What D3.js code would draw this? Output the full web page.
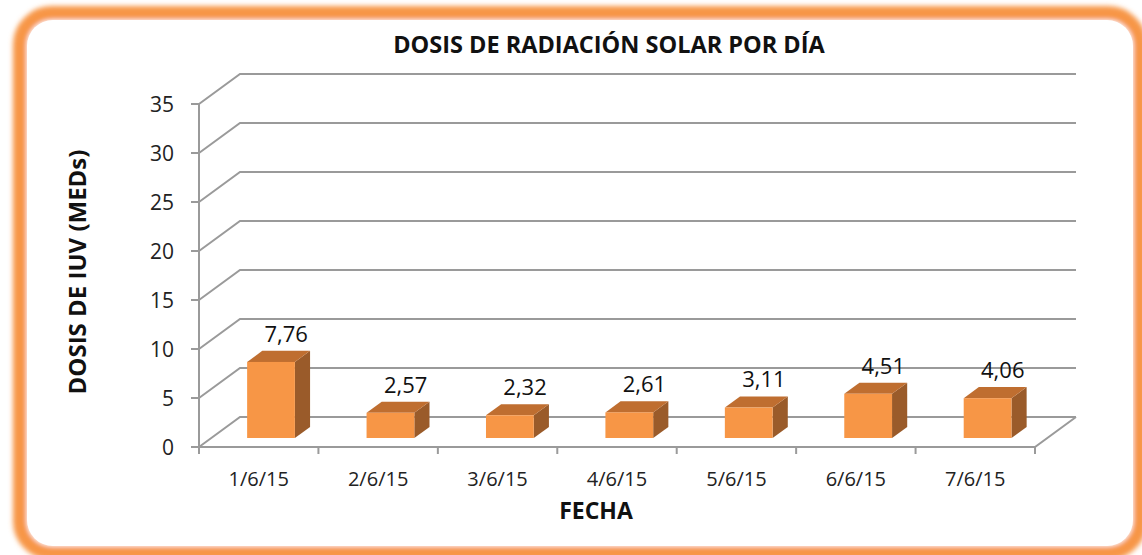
<!DOCTYPE html>
<html>
<head>
<meta charset="utf-8">
<script src="https://cdn.jsdelivr.net/npm/d3@7"></script>
<style>
  body { margin: 0; background: #fff; }
  svg { display: block; }
</style>
</head>
<body>
<svg id="chart" width="1142" height="555"></svg>
<script>
// datos
const fechas = ["1/6/15", "2/6/15", "3/6/15", "4/6/15", "5/6/15", "6/6/15", "7/6/15"];
const dosis = [7.76, 2.57, 2.32, 2.61, 3.11, 4.51, 4.06];
const yTicks = [0, 5, 10, 15, 20, 25, 30, 35];

const svg = d3.select("#chart");
const font = "'Open Sans', 'Liberation Sans', sans-serif";

// fondo / marco naranja
const defs = svg.append("defs");
defs.append("filter").attr("id", "glow")
  .attr("x", "-5%").attr("y", "-5%").attr("width", "110%").attr("height", "110%")
  .append("feGaussianBlur").attr("stdDeviation", 2.5);

svg.append("rect")
  .attr("x", 20).attr("y", 13).attr("width", 1120).attr("height", 540)
  .attr("rx", 32).attr("ry", 32)
  .attr("fill", "#fff")
  .attr("stroke", "#F79646").attr("stroke-width", 14)
  .attr("filter", "url(#glow)");
svg.append("rect")
  .attr("x", 27).attr("y", 20).attr("width", 1106).attr("height", 526)
  .attr("rx", 26).attr("ry", 26)
  .attr("fill", "#fff");

// geometria 3D
const left = 199, right = 1035;
const DX = 41, DY = -30;   // profundidad de la pared
const z0 = 0.3, z1 = 0.67; // posicion de barras en la profundidad

const x = d3.scaleBand().domain(fechas).range([left, right])
  .paddingInner(0.6).paddingOuter(0.3);
const y = d3.scaleLinear().domain([0, 35]).range([447, 104]);

const g = svg.append("g");
const gridColor = "#9a9a9a";

// rejilla: diagonal izquierda + linea de fondo
yTicks.forEach(t => {
  const yy = y(t);
  g.append("path")
    .attr("d", `M${left},${yy}L${left + DX},${yy + DY}L${right + DX},${yy + DY}`)
    .attr("fill", "none").attr("stroke", gridColor).attr("stroke-width", 2);
});
// piso: borde derecho y frente
g.append("path")
  .attr("d", `M${left},${y(0)}L${right},${y(0)}L${right + DX},${y(0) + DY}`)
  .attr("fill", "none").attr("stroke", gridColor).attr("stroke-width", 2);

// eje Y
g.append("line")
  .attr("x1", left).attr("x2", left).attr("y1", y(0)).attr("y2", y(35))
  .attr("stroke", gridColor).attr("stroke-width", 2);
g.selectAll(".ytick").data(yTicks).enter().append("line")
  .attr("x1", left - 8).attr("x2", left).attr("y1", d => y(d)).attr("y2", d => y(d))
  .attr("stroke", gridColor).attr("stroke-width", 2);
g.selectAll(".ylab").data(yTicks).enter().append("text")
  .attr("x", 174).attr("y", d => y(d) + 8)
  .attr("text-anchor", "end")
  .attr("font-family", font).attr("font-size", 21).attr("fill", "#222")
  .text(d => d);

// eje X: marcas entre categorias
const bounds = d3.range(fechas.length + 1).map(i => left + i * x.step());
g.selectAll(".xtick").data(bounds).enter().append("line")
  .attr("x1", d => d).attr("x2", d => d).attr("y1", y(0)).attr("y2", y(0) + 7)
  .attr("stroke", gridColor).attr("stroke-width", 2);
g.selectAll(".xlab").data(fechas).enter().append("text")
  .attr("x", d => x(d) + x.bandwidth() / 2).attr("y", 486)
  .attr("text-anchor", "middle")
  .attr("font-family", font).attr("font-size", 20).attr("fill", "#222")
  .text(d => d);

// barras 3D
const bw = x.bandwidth();
const fx = z0 * DX, fy = z0 * DY;
const bx = (z1 - z0) * DX, by = (z1 - z0) * DY;
const bars = g.selectAll(".bar").data(fechas.map((f, i) => ({ f, v: dosis[i] })))
  .enter().append("g");

bars.each(function (d) {
  const s = d3.select(this);
  const x0 = x(d.f) + fx, x1 = x0 + bw;
  const yb = y(0) + fy, yt = y(d.v) + fy;
  // lado
  s.append("path")
    .attr("d", `M${x1},${yb}L${x1 + bx},${yb + by}L${x1 + bx},${yt + by}L${x1},${yt}Z`)
    .attr("fill", "#9A5B2A");
  // tapa
  s.append("path")
    .attr("d", `M${x0},${yt}L${x0 + bx},${yt + by}L${x1 + bx},${yt + by}L${x1},${yt}Z`)
    .attr("fill", "#BF6E30");
  // frente
  s.append("rect")
    .attr("x", x0).attr("y", yt).attr("width", bw).attr("height", yb - yt)
    .attr("fill", "#F79646");
  // etiqueta
  s.append("text")
    .attr("x", x0 + bw / 2 + bx).attr("y", yt + by - 9)
    .attr("text-anchor", "middle")
    .attr("font-family", font).attr("font-size", 22).attr("fill", "#111")
    .text(d3.format(".2f")(d.v).replace(".", ","));
});

// titulos
svg.append("text")
  .attr("x", 609).attr("y", 53).attr("text-anchor", "middle")
  .attr("font-family", font).attr("font-weight", "bold").attr("font-size", 23.5)
  .attr("fill", "#111")
  .text("DOSIS DE RADIACIÓN SOLAR POR DÍA");
svg.append("text")
  .attr("x", 596).attr("y", 519).attr("text-anchor", "middle")
  .attr("font-family", font).attr("font-weight", "bold").attr("font-size", 23)
  .attr("fill", "#111")
  .text("FECHA");
svg.append("text")
  .attr("transform", "translate(86,272) rotate(-90)")
  .attr("text-anchor", "middle")
  .attr("font-family", font).attr("font-weight", "bold").attr("font-size", 24)
  .attr("fill", "#111")
  .text("DOSIS DE IUV (MEDs)");
</script>
</body>
</html>
